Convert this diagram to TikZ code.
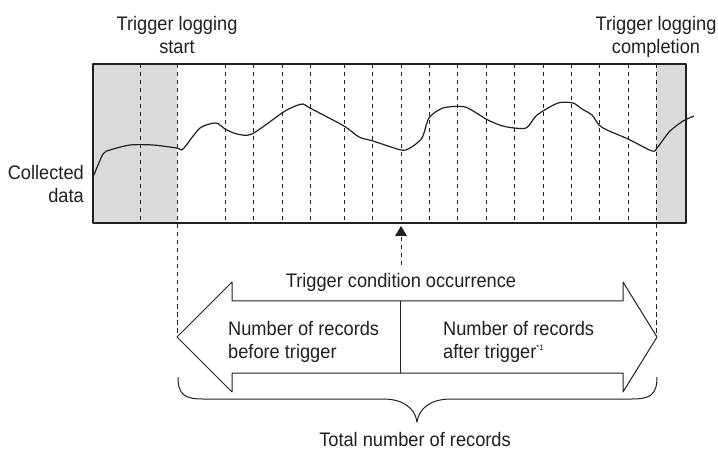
\documentclass[tikz,border=0pt]{standalone}
\usepackage{fontspec}
\setmainfont[FakeStretch=0.93]{Liberation Sans}
\definecolor{greyfill}{RGB}{217,218,220}
\definecolor{ink}{RGB}{35,31,32}
\begin{document}
\begin{tikzpicture}[x=1pt,y=-1pt, line join=round,
  lbl/.style={font=\fontsize{19.6}{23}\selectfont, inner sep=0pt, text=ink},
  gridline/.style={draw=ink, line width=0.9pt, dash pattern=on 4.5pt off 3.5pt},
  frame/.style={draw=ink, line width=1.1pt},
  outline/.style={draw=ink, line width=1pt}]
\useasboundingbox (0,0) rectangle (718,449);
% shaded regions
\fill[greyfill] (93,64) rectangle (177,223);
\fill[greyfill] (656,64) rectangle (686,223);
% record grid lines
\foreach \x in {140,225,253,282,310,344,372,401,429,457,486,514,543,571,599,628}
  \draw[gridline] (\x,64) -- (\x,223);
\coordinate (startTop) at (177,64);
\coordinate (startEnd) at (177,333);
\coordinate (endTop) at (656,64);
\coordinate (endEnd) at (656,333);
\draw[gridline] (startTop) -- (startEnd);
\draw[gridline] (endTop) -- (endEnd);
% data curve
\draw[ink, line width=1.2pt] plot[smooth, tension=0.45] coordinates {
 (94,175) (103,154) (110,150) (130,145) (153,145) (177,148) (183,149)
 (200,128) (216,123) (225,129) (237,134) (252,134) (282,113) (293,107)
 (303,104) (310,108) (344,126) (359,137) (373,141) (401,150) (410,148)
 (422,138) (429,118) (443,108) (465,107) (486,119) (497,124) (507,127)
 (526,128) (537,115) (558,103) (573,103) (582,109) (592,115) (599,125)
 (607,130) (628,139) (652,151) (657,148) (663,140) (670,131) (683,121) (694,116)};
% frame
\draw[frame] (93,64) rectangle (686,223);
% trigger marker
\fill[ink] (401,226) -- (407,236) -- (395,236) -- cycle;
\coordinate (trigA) at (401,237);
\coordinate (trigB) at (401,266);
\draw[gridline] (trigA) -- (trigB);
% double arrow
\draw[outline, fill=white] (177,337) -- (232,282) -- (232,301) -- (623,301) -- (623,282)
  -- (657,337) -- (623,392) -- (623,373) -- (232,373) -- (232,392) -- cycle;
\coordinate (midTop) at (400,301);
\coordinate (midBot) at (400,373);
\draw[outline] (midTop) -- (midBot);
% brace
\draw[outline] (178,377) .. controls (178,395) and (185,399) .. (203,399)
  -- (383,399) .. controls (403,399) and (415,408) .. (417,422)
  .. controls (419,408) and (431,399) .. (451,399)
  -- (632,399) .. controls (650,399) and (657,395) .. (657,377);
% labels
\node[lbl, anchor=north, align=center] (lstart) at (177,16) {Trigger logging\\start};
\node[lbl, anchor=north, align=center] (lend) at (656,16) {Trigger logging\\completion};
\node[lbl, anchor=north east, align=right] (lcoll) at (84,165) {Collected\\data};
\node[lbl, anchor=base] (ltrig) at (401,288) {Trigger condition occurrence};
\node[lbl, anchor=north west, align=left] (lbefore) at (228,321) {Number of records\\before trigger};
\node[lbl, anchor=north west, align=left] (lafter) at (443,321) {Number of records\\after trigger\raisebox{8pt}{\fontsize{8}{8}\selectfont *1}};
\node[lbl, anchor=base] (ltotal) at (415,446) {Total number of records};
\end{tikzpicture}
\end{document}
